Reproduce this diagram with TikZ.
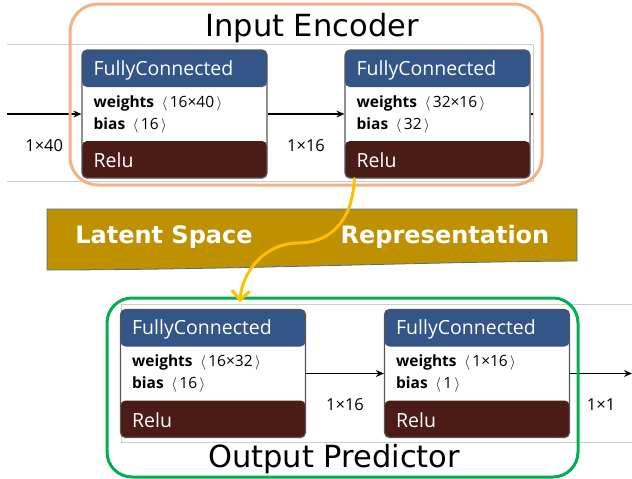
\documentclass[tikz,border=0pt]{standalone}
\usepackage{fontspec}
\setmainfont{Open Sans}
\newfontfamily\titlefont{DejaVu Sans}
\usetikzlibrary{arrows.meta}

\definecolor{hdblue}{HTML}{335588}
\definecolor{actbrown}{HTML}{4B1B16}
\definecolor{edgegray}{HTML}{555555}
\definecolor{framegray}{HTML}{CCCCCC}
\definecolor{encorange}{HTML}{F4B183}
\definecolor{predgreen}{HTML}{00B050}
\definecolor{latentgold}{HTML}{BF9000}
\definecolor{latentedge}{HTML}{41719C}
\definecolor{flowyellow}{HTML}{FFC000}

\newcommand{\shp}[1]{\enspace$\langle\,$#1$\,\rangle$}
% one FullyConnected layer: name, centre, weights, bias
\newcommand{\fcblock}[4]{%
  \node[fcbox] (#1) at (#2) {};
  \node[optext] (#1-op) at ([xshift=12pt,yshift=-26pt]#1.north west) {FullyConnected};
  \node[attrtext] (#1-w) at ([xshift=12pt,yshift=-58pt]#1.north west) {\textbf{weights}\shp{#3}};
  \node[attrtext] (#1-b) at ([xshift=12pt,yshift=-80pt]#1.north west) {\textbf{bias}\shp{#4}};
  \node[optext] (#1-act) at ([xshift=12pt,yshift=11pt]#1.south west) {Relu};
}

\begin{document}
\begin{tikzpicture}[x=1pt,y=-1pt,
  fcbox/.style={draw=edgegray, line width=1.2pt, rounded corners=5pt, fill=white,
    minimum width=185pt, minimum height=128pt, inner sep=0pt,
    path picture={
      \fill[hdblue] (path picture bounding box.north west) rectangle ([yshift=-37pt]path picture bounding box.north east);
      \fill[actbrown] (path picture bounding box.south west) rectangle ([yshift=37pt]path picture bounding box.south east);
    }},
  optext/.style={anchor=base west, inner sep=0pt, text=white, font=\fontsize{19.5}{22}\selectfont},
  attrtext/.style={anchor=base west, inner sep=0pt, font=\fontsize{15.5}{20}\selectfont},
  dimlabel/.style={anchor=base, inner sep=0pt, font=\fontsize{16.5}{20}\selectfont},
  flow/.style={line width=1.3pt, -{Stealth[length=8pt,width=7pt]}},
  frameline/.style={draw=framegray, line width=0.8pt},
  grouptitle/.style={anchor=base, inner sep=0pt, font=\titlefont\fontsize{30.5}{34}\selectfont},
  latenttext/.style={anchor=base, inner sep=0pt, text=white, font=\titlefont\bfseries\fontsize{24}{28}\selectfont},
  latentflow/.style={draw=flowyellow, line width=3pt, line cap=round, -{Straight Barb[length=9pt,width=18pt]}}]
\useasboundingbox (0,0) rectangle (632,479);

% netron frames
\draw[frameline] (7,44) -- (533,44) -- (533,181) -- (7,181);
\draw[frameline] (632,304) -- (121,304) -- (121,442) -- (632,442);

% encoder
\fcblock{fc1}{174.5,114}{16×40}{16}
\fcblock{fc2}{437.5,114}{32×16}{32}
\coordinate (in) at (7,114);
\coordinate (out1) at (533,114);
\draw[flow] (in) -- (fc1) node[dimlabel, midway, yshift=-37pt] {1×40};
\draw[flow] (fc1) -- (fc2) node[dimlabel, midway, yshift=-37pt] {1×16};
\draw[line width=1.3pt] (fc2) -- (out1);

% predictor
\fcblock{fc3}{213,373.5}{16×32}{16}
\fcblock{fc4}{477,373.5}{1×16}{1}
\coordinate (out2) at (632,373.5);
\draw[flow] (fc3) -- (fc4) node[dimlabel, midway, yshift=-37pt] {1×16};
\draw[flow] (fc4) -- (out2) node[dimlabel, midway, yshift=-37pt] {1×1};

% group boxes
\draw[encorange, line width=3pt, rounded corners=28pt] (70,4) rectangle (542,185);
\draw[predgreen, line width=3pt, rounded corners=25pt] (107,298) rectangle (578,477);
\node[grouptitle] (enc-title) at (312,36) {Input Encoder};
\node[grouptitle] (pred-title) at (334,467) {Output Predictor};

% latent band
\filldraw[fill=latentgold, draw=latentedge, line width=0.8pt]
  (47,209) -- (577,209) -- (577,261) .. controls (420,262) and (220,270) .. (47,270) -- cycle;
\node[latenttext] (latent-a) at (164,243) {Latent Space};
\node[latenttext] (latent-b) at (445,243) {Representation};

\coordinate (bend) at (298,243);
\draw[latentflow] ([xshift=10pt]fc2.south west) .. controls +(-2,45) and +(30,0) .. (bend)
  .. controls +(-33,0) and +(2,-30) .. ([xshift=27pt,yshift=7pt]fc3.north);
\end{tikzpicture}
\end{document}
